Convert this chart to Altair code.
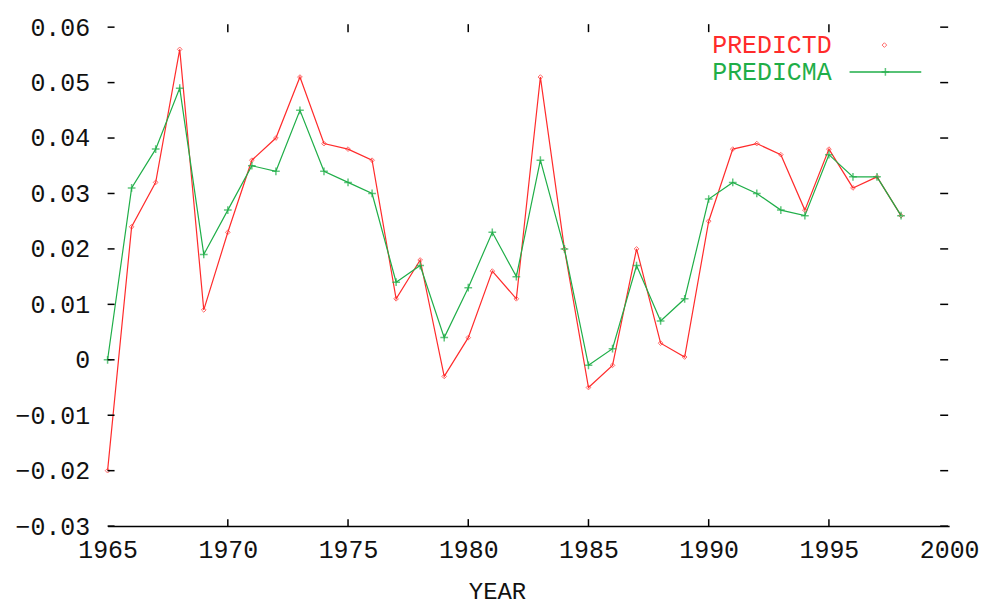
import altair as alt
import pandas as pd

# ---- data ----
years = list(range(1965, 1999))
predictd = [-0.020, 0.024, 0.032, 0.056, 0.009, 0.023, 0.036, 0.040, 0.051, 0.039,
            0.038, 0.036, 0.011, 0.018, -0.003, 0.004, 0.016, 0.011, 0.051, 0.020,
            -0.005, -0.001, 0.020, 0.003, 0.0005, 0.025, 0.038, 0.039, 0.037, 0.027,
            0.038, 0.031, 0.033, 0.026]
predicma = [0.000, 0.031, 0.038, 0.049, 0.019, 0.027, 0.035, 0.034, 0.045, 0.034,
            0.032, 0.030, 0.014, 0.017, 0.004, 0.013, 0.023, 0.015, 0.036, 0.020,
            -0.001, 0.002, 0.017, 0.007, 0.011, 0.029, 0.032, 0.030, 0.027, 0.026,
            0.037, 0.033, 0.033, 0.026]
series_names = ["PREDICTD", "PREDICMA"]
x_ticks = [1965, 1970, 1975, 1980, 1985, 1990, 1995, 2000]
y_ticks = [-0.03, -0.02, -0.01, 0.0, 0.01, 0.02, 0.03, 0.04, 0.05, 0.06]

W, H = 845, 501
RED = "#ff2b2b"
GREEN = "#1fae48"
FONT = "Liberation Mono"
FS = 25

long = pd.DataFrame({
    "YEAR": years * 2,
    "value": predictd + predicma,
    "series": [series_names[0]] * len(years) + [series_names[1]] * len(years),
})

xscale = alt.Scale(domain=[x_ticks[0], x_ticks[-1]], nice=False, zero=False)
yscale = alt.Scale(domain=[y_ticks[0], y_ticks[-1]], nice=False, zero=False)

xaxis = alt.Axis(values=x_ticks, format="d", tickSize=0, grid=False, domain=True,
                 domainColor="black", domainWidth=1.5, labelFont=FONT, labelFontSize=FS,
                 labelColor="#111", labelPadding=12, labelFlush=False,
                 title="YEAR", titleFont=FONT, titleFontSize=FS - 1, titleFontWeight="normal",
                 titleColor="#111", titleX=391, titleY=54, titleAlign="center",
                 titleBaseline="top")
yaxis = alt.Axis(values=y_ticks, format=".2~f", tickSize=0, grid=False, domain=False,
                 labelFont=FONT, labelFontSize=FS, labelColor="#111", labelPadding=18,
                 labelFlush=False, title=None)

xenc = alt.X("YEAR:Q", scale=xscale, axis=xaxis)
yenc = alt.Y("value:Q", scale=yscale, axis=yaxis)

lines = alt.Chart(long).mark_line(strokeWidth=1.2).encode(
    x=xenc, y=yenc,
    color=alt.Color("series:N", scale=alt.Scale(domain=series_names, range=[RED, GREEN]), legend=None),
    detail="series:N",
)

PLUS = "M-1,0L1,0M0,-1L0,1"

red_pts = alt.Chart(long).transform_filter(alt.datum.series == series_names[0]).mark_point(
    shape="diamond", size=22, filled=False, strokeWidth=1, color=RED
).encode(x=xenc, y=yenc)

green_pts = alt.Chart(long).transform_filter(alt.datum.series == series_names[1]).mark_point(
    shape=PLUS, size=60, filled=False, strokeWidth=1.5, color=GREEN
).encode(x=xenc, y=yenc)

xt_inner = pd.DataFrame({"YEAR": x_ticks[1:-1]})
yt = pd.DataFrame({"value": y_ticks})

bottom_ticks = alt.Chart(xt_inner).mark_rule(color="black", strokeWidth=1.5).encode(
    x=xenc, y=alt.value(H), y2=alt.value(H - 7))
top_ticks = alt.Chart(xt_inner).mark_rule(color="black", strokeWidth=1.5).encode(
    x=xenc, y=alt.value(-3), y2=alt.value(5))
left_ticks = alt.Chart(yt).mark_rule(color="black", strokeWidth=1.5).encode(
    y=yenc, x=alt.value(0), x2=alt.value(7))
right_ticks = alt.Chart(yt).mark_rule(color="black", strokeWidth=1.5).encode(
    y=yenc, x=alt.value(W - 9), x2=alt.value(W - 1))

one = pd.DataFrame({"a": [0]})
leg_t1 = alt.Chart(one).mark_text(align="right", baseline="middle", font=FONT, fontSize=FS,
                                  color=RED, text=series_names[0]).encode(
    x=alt.value(727), y=alt.value(18))
leg_t2 = alt.Chart(one).mark_text(align="right", baseline="middle", font=FONT, fontSize=FS,
                                  color=GREEN, text=series_names[1]).encode(
    x=alt.value(727), y=alt.value(45))
leg_p1 = alt.Chart(one).mark_point(shape="diamond", size=22, filled=False, strokeWidth=1,
                                   color=RED).encode(x=alt.value(780), y=alt.value(18))
leg_l2 = alt.Chart(one).mark_rule(color=GREEN, strokeWidth=1.5).encode(
    x=alt.value(745), x2=alt.value(817), y=alt.value(45))
leg_p2 = alt.Chart(one).mark_point(shape=PLUS, size=60, filled=False, strokeWidth=1.5,
                                   color=GREEN).encode(x=alt.value(781), y=alt.value(45))

chart = alt.layer(
    lines, red_pts, green_pts,
    bottom_ticks, top_ticks, left_ticks, right_ticks,
    leg_t1, leg_t2, leg_p1, leg_l2, leg_p2,
).properties(
    width=W, height=H,
    autosize=alt.AutoSizeParams(type="none"),
    padding={"left": 100, "top": 18, "right": 35, "bottom": 83},
    background="white",
).configure_view(stroke=None)

chart.save("out.html", embed_options={"renderer": "svg", "actions": False})
